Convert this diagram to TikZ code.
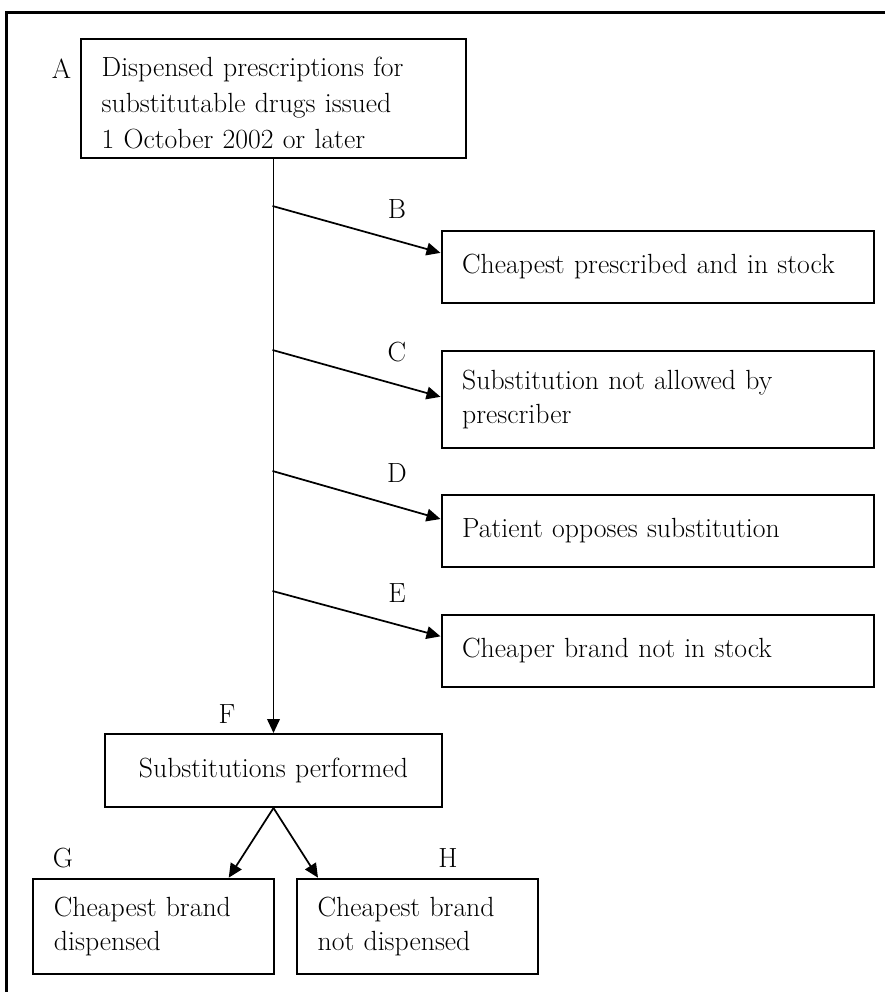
\documentclass[tikz,border=0pt]{standalone}
\usepackage{amsmath}
\usepackage{tikz}
\usetikzlibrary{calc,arrows.meta}

\newcommand{\boxfont}{\fontsize{20.8}{25}\selectfont}

\begin{document}
\begin{tikzpicture}[x=0.75pt,y=-0.75pt,
  box/.style={draw, line width=1.5pt, anchor=north west, inner xsep=15.5pt,
    inner ysep=0pt, align=left, font=\boxfont},
  tag/.style={font=\boxfont, inner sep=0pt},
  arr/.style={line width=1.3pt, -{Triangle[length=10.5pt,width=9.5pt]}}]

\useasboundingbox (0,0) rectangle (885,992);
\draw[line width=1.6pt] (6.5,992) -- (6.5,12.5) -- (885,12.5);

% boxes
\node[box, text width=257.75pt, minimum height=89.6pt,
  font=\fontsize{20.8}{27}\selectfont] (nA) at (80,37.7)
  {\rule{0pt}{21pt}Dispensed prescriptions for\\ substitutable drugs issued\\ 1 October 2002 or later};
\node[box, text width=293.4pt, minimum height=53.8pt] (nB) at (440.5,230) {Cheapest prescribed and in stock};
\node[box, text width=293.4pt, minimum height=72.75pt] (nC) at (440.5,350) {Substitution not allowed by\\ prescriber};
\node[box, text width=293.4pt, minimum height=54pt] (nD) at (440.5,494) {Patient opposes substitution};
\node[box, text width=293.4pt, minimum height=54pt] (nE) at (440.5,614) {Cheaper brand not in stock};
\node[box, text width=221.75pt, minimum height=54.75pt, align=center] (nF) at (104,733) {Substitutions performed};
\node[box, text width=149.3pt, minimum height=71.7pt] (nG) at (32.3,877.7) {Cheapest brand\\ dispensed};
\node[box, text width=149.5pt, minimum height=71.7pt] (nH) at (296,877.7) {Cheapest brand\\ not dispensed};

% letters
\node[tag] (tA) at (61.5,69) {A};
\node[tag] (tB) at (397,209) {B};
\node[tag] (tC) at (397,352) {C};
\node[tag] (tD) at (397,473) {D};
\node[tag] (tE) at (397,593) {E};
\node[tag] (tF) at (227,714) {F};
\node[tag] (tG) at (63,858) {G};
\node[tag] (tH) at (448,858) {H};

% connectors
\coordinate (jB) at (272.5,206);
\coordinate (jC) at (272.5,350);
\coordinate (jD) at (272.5,471);
\coordinate (jE) at (272.5,591);
\draw[arr] (nA.south) -- (nF.north);
\draw[arr] (jB) -- ([yshift=10.5pt]nB.west);
\draw[arr] (jC) -- ([yshift=2pt]nC.west);
\draw[arr] (jD) -- ([yshift=9pt]nD.west);
\draw[arr] (jE) -- ([yshift=11pt]nE.west);
\draw[arr] (nF.south) -- ([xshift=-34.5pt]nG.north east);
\draw[arr] (nF.south) -- ([xshift=16.5pt]nH.north west);
\end{tikzpicture}
\end{document}
